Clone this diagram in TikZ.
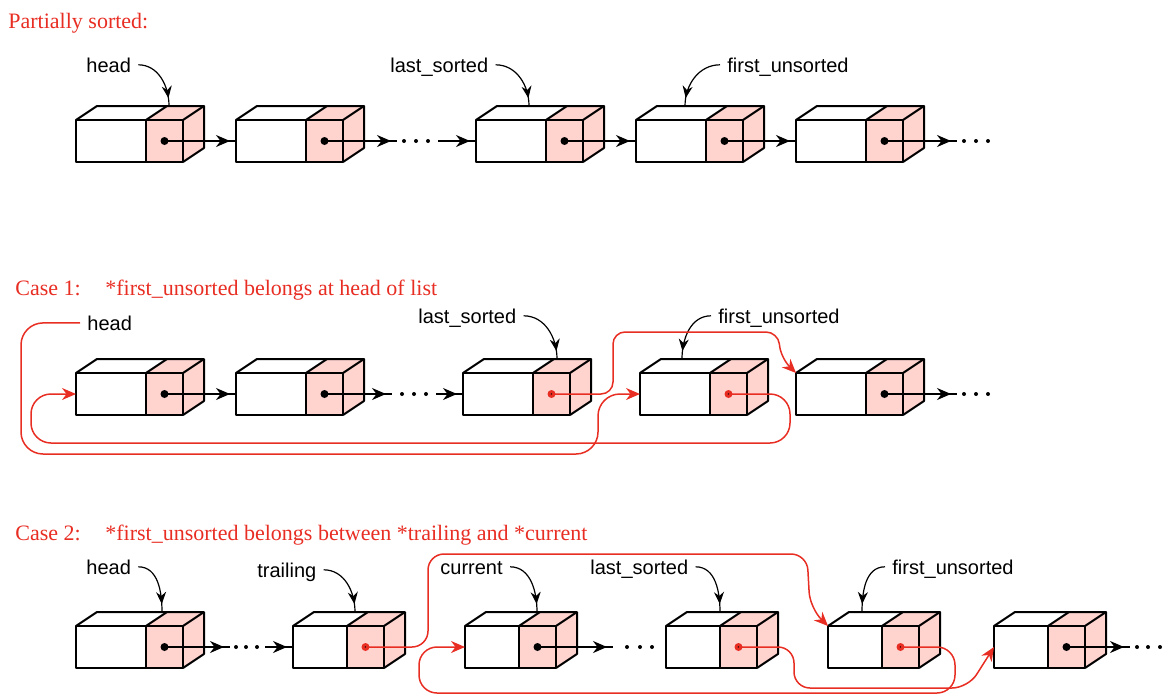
\documentclass[tikz,border=0pt]{standalone}
\usepackage{fontspec}
\setmainfont{Liberation Serif}
\setsansfont{Liberation Sans}
\usetikzlibrary{arrows.meta, decorations.markings}
\definecolor{listred}{RGB}{232,45,35}
\definecolor{linkpink}{RGB}{255,212,207}

% one list cell: name, x, y (front top left), data width, dot colour
\newcommand{\cell}[5]{%
  \node[datapart, minimum width=#4, anchor=north west] (#1) at (#2,#3) {};
  \node[linkpart, anchor=west] (#1p) at (#1.east) {};
  \fill[linkpink] (#1p.north west) -- ++(21,-14) -- ([shift={(21,-14)}]#1p.north east)
    -- ([shift={(21,-14)}]#1p.south east) -- (#1p.south east) -- (#1p.north east) -- cycle;
  \draw[edge] (#1.north west) -- ++(21,-14) -- ([shift={(21,-14)}]#1p.north east)
    -- ([shift={(21,-14)}]#1p.south east) -- (#1p.south east);
  \draw[edge] (#1p.north west) -- ++(21,-14);
  \draw[edge] (#1p.north east) -- ++(21,-14);
  \draw[edge] (#1.south west) rectangle (#1p.north east);
  \draw[edge] (#1p.north west) -- (#1p.south west);
  \fill[#5] (#1p.center) circle (2pt);
  \fill (#1p.center) circle (0.45pt);
}

\begin{document}
\begin{tikzpicture}[
  x=0.5pt, y=-0.5pt,
  datapart/.style={rectangle, inner sep=0pt, outer sep=0pt, minimum height=21pt, fill=white},
  linkpart/.style={rectangle, inner sep=0pt, outer sep=0pt, minimum width=18.5pt,
    minimum height=21pt, fill=linkpink},
  edge/.style={line width=1pt, line join=round},
  link/.style={line width=0.8pt, postaction={decorate},
    decoration={markings, mark=at position -3pt with {\arrow{Stealth[length=7pt,width=6pt]}}}},
  lptr/.style={line width=0.6pt, postaction={decorate},
    decoration={markings, mark=at position -4pt with {\arrow{Stealth[length=6pt,width=5pt]}}}},
  redlink/.style={draw=listred, line width=0.75pt, rounded corners=8pt,
    -{Stealth[length=7pt,width=6pt]}},
  lbl/.style={font=\sffamily\fontsize{10}{12}\selectfont, inner sep=0pt,
    text height=7.2pt, text depth=0pt, anchor=base west},
  ttl/.style={font=\rmfamily\fontsize{11}{13}\selectfont, text=listred,
    inner sep=0pt, anchor=base west}
]
  \useasboundingbox (0,0) rectangle (1166,696);

  % partially sorted
  \node[ttl] (ttl0) at (8,28) {Partially sorted:};
  \cell{a1}{76}{120}{35pt}{black}
  \cell{a2}{236}{120}{35pt}{black}
  \cell{a3}{476}{120}{35pt}{black}
  \cell{a4}{636}{120}{35pt}{black}
  \cell{a5}{796}{120}{35pt}{black}
  \coordinate (gA1) at (397,141);
  \coordinate (gA2) at (438,141);
  \coordinate (gA3) at (957,141);
  \draw[link] (a1p.center) -- (a2.west);
  \draw[link] (a2p.center) -- (gA1);
  \foreach \x in {404,416,428} \fill (\x,141) circle (1pt);
  \draw[link] (gA2) -- (a3.west);
  \draw[link] (a3p.center) -- (a4.west);
  \draw[link] (a4p.center) -- (a5.west);
  \draw[link] (a5p.center) -- (gA3);
  \foreach \x in {964,976,988} \fill (\x,141) circle (1pt);

  \node[lbl] (hdA) at (86,72) {head};
  \node[lbl] (lsA) at (390,72) {last\_sorted};
  \node[lbl] (fuA) at (727,72) {first\_unsorted};
  \draw[lptr] ([xshift=3.5pt]hdA.east) to[out=0,in=90] ([shift={(93,-14)}]a1.north west);
  \draw[lptr] ([xshift=3.5pt]lsA.east) to[out=0,in=90] ([shift={(53,-14)}]a3.north west);
  \draw[lptr] ([xshift=-3.5pt]fuA.west) to[out=180,in=90] ([shift={(49,-14)}]a4.north west);

  % case 1
  \node[ttl] (ttl1) at (15,295) {\makebox[45pt][l]{Case 1:}*first\_unsorted belongs at head of list};
  \cell{b1}{76}{373}{35pt}{black}
  \cell{b2}{236}{373}{35pt}{black}
  \cell{b3}{463}{373}{35pt}{listred}
  \cell{b4}{640}{373}{35pt}{listred}
  \cell{b5}{796}{373}{35pt}{black}
  \coordinate (gB1) at (392,394);
  \coordinate (gB2) at (436,394);
  \coordinate (gB3) at (957,394);
  \draw[link] (b1p.center) -- (b2.west);
  \draw[link] (b2p.center) -- (gB1);
  \foreach \x in {402,414,426} \fill (\x,394) circle (1pt);
  \draw[link] (gB2) -- (b3.west);
  \draw[link] (b5p.center) -- (gB3);
  \foreach \x in {964,976,988} \fill (\x,394) circle (1pt);

  \node[lbl] (hdB) at (87,330) {head};
  \node[lbl] (lsB) at (418,323) {last\_sorted};
  \node[lbl] (fuB) at (718,323) {first\_unsorted};
  \draw[lptr] ([xshift=3.5pt]lsB.east) to[out=0,in=90] ([shift={(94,-14)}]b3.north west);
  \draw[lptr] ([xshift=-3.5pt]fuB.west) to[out=180,in=90] ([shift={(42,-14)}]b4.north west);

  \draw[redlink, rounded corners=11pt] ([xshift=-3.5pt]hdB.west) -- (21,323) -- (21,454)
    -- (598,454) -- (598,394) -- (b4.west);
  \draw[redlink, rounded corners=10pt] (b4p.center) -- (790,394) -- (790,443)
    -- (31,443) -- (31,394) -- (b1.west);
  \draw[redlink, rounded corners=6pt] (b3p.center) -- (613,394) -- (613,332)
    -- (778,332) -- (781,358) -- (b5.north west);

  % case 2
  \node[ttl] (ttl2) at (15,540) {\makebox[45pt][l]{Case 2:}*first\_unsorted belongs between *trailing and *current};
  \cell{c1}{76}{626}{35pt}{black}
  \cell{c2}{293}{626}{27pt}{listred}
  \cell{c3}{465}{626}{27pt}{black}
  \cell{c4}{666}{626}{27pt}{listred}
  \cell{c5}{828}{626}{27pt}{listred}
  \cell{c6}{994}{626}{27pt}{black}
  \coordinate (gC1) at (230,647);
  \coordinate (gC2) at (265,647);
  \coordinate (gC3) at (613,647);
  \coordinate (gC4) at (1130,647);
  \draw[link] (c1p.center) -- (gC1);
  \foreach \x in {236,246,257} \fill (\x,647) circle (1pt);
  \draw[link] (gC2) -- (c2.west);
  \draw[link] (c3p.center) -- (gC3);
  \foreach \x in {627,640,652} \fill (\x,647) circle (1pt);
  \draw[link] (c6p.center) -- (gC4);
  \foreach \x in {1137,1148,1160} \fill (\x,647) circle (1pt);

  \node[lbl] (hdC) at (86,574) {head};
  \node[lbl] (trC) at (257,577) {trailing};
  \node[lbl] (cuC) at (440,574) {current};
  \node[lbl] (lsC) at (590,574) {last\_sorted};
  \node[lbl] (fuC) at (892,574) {first\_unsorted};
  \draw[lptr] ([xshift=3.5pt]hdC.east) to[out=0,in=90] ([shift={(86,-14)}]c1.north west);
  \draw[lptr] ([xshift=3.5pt]trC.east) to[out=0,in=90] ([shift={(62,-14)}]c2.north west);
  \draw[lptr] ([xshift=3.5pt]cuC.east) to[out=0,in=90] ([shift={(72,-14)}]c3.north west);
  \draw[lptr] ([xshift=3.5pt]lsC.east) to[out=0,in=90] ([shift={(54,-14)}]c4.north west);
  \draw[lptr] ([xshift=-3.5pt]fuC.west) to[out=180,in=90] ([shift={(34,-14)}]c5.north west);

  \draw[redlink] (c2p.center) -- (428,647) -- (428,554) -- (807,554) -- (810,608)
    -- (c5.north west);
  \draw[redlink] (c4p.center) -- (794,647) -- (794,688) -- (968,688) -- (c6.west);
  \draw[redlink, rounded corners=9pt] (c5p.center) -- (955,647) -- (955,693)
    -- (419,693) -- (419,647) -- (c3.west);
\end{tikzpicture}
\end{document}
